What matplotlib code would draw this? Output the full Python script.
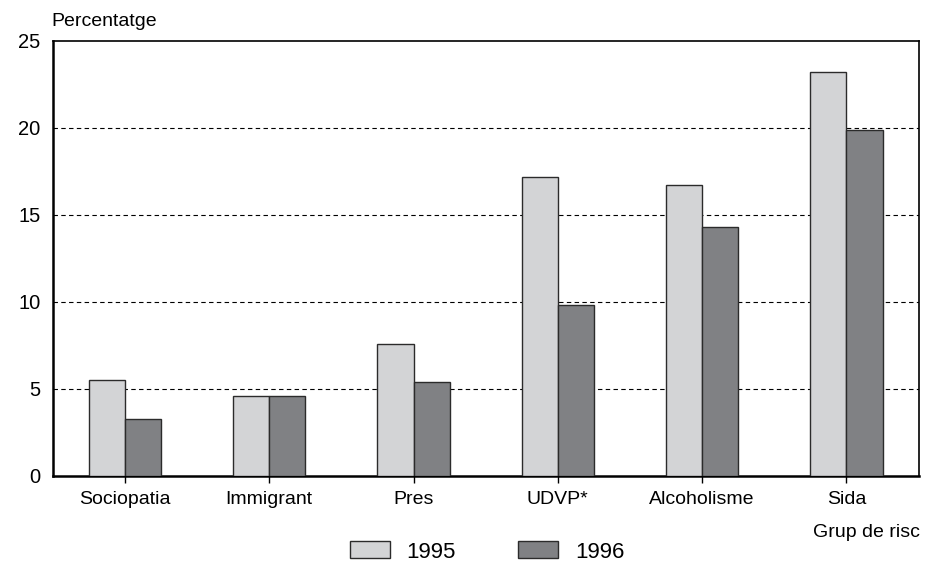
import numpy as np
import matplotlib
matplotlib.use("Agg")
from matplotlib import pyplot as plt
from matplotlib.patches import Patch

plt.rcParams['font.family'] = ['Liberation Sans', 'DejaVu Sans']

categories = ["Sociopatia", "Immigrant", "Pres", "UDVP*", "Alcoholisme", "Sida"]
vals_1995 = [5.5, 4.6, 7.6, 17.2, 16.7, 23.2]
vals_1996 = [3.3, 4.6, 5.4, 9.8, 14.3, 19.9]
years = ["1995", "1996"]
yticks = [0, 5, 10, 15, 20, 25]

col95 = "#d3d4d6"
col96 = "#808184"
edge = "#2b2b2b"

fig = plt.figure(figsize=(9.26, 5.68), dpi=100)
ax = fig.add_axes([0.057, 0.162, 0.935, 0.766])

x = np.arange(len(categories))
w = 0.25
ax.bar(x - w/2, vals_1995, w, color=col95, edgecolor=edge, linewidth=1.0, zorder=3)
ax.bar(x + w/2, vals_1996, w, color=col96, edgecolor=edge, linewidth=1.0, zorder=3)

for y in yticks[1:-1]:
    ax.axhline(y, color="black", linestyle=(0, (4, 3)), linewidth=0.8, zorder=1)

ax.set_xlim(-0.5, 5.5)
ax.set_ylim(0, 25)
ax.set_xticks(x)
ax.set_xticklabels(categories, fontsize=14)
ax.set_yticks(yticks)
ax.set_yticklabels([str(t) for t in yticks], fontsize=14.5)
ax.tick_params(axis="y", length=0, pad=9)
ax.tick_params(axis="x", length=5, width=1, direction="out", pad=6)

for s in ["left", "bottom"]:
    ax.spines[s].set_linewidth(1.8)
for s in ["top", "right"]:
    ax.spines[s].set_linewidth(1.2)

fig.text(0.056, 0.963, "Percentatge", fontsize=14, ha="left", va="center")
fig.text(0.993, 0.063, "Grup de risc", fontsize=14, ha="right", va="center")

handles = [Patch(facecolor=col95, edgecolor=edge, linewidth=1.0),
           Patch(facecolor=col96, edgecolor=edge, linewidth=1.0)]
fig.legend(handles, years, loc="center", bbox_to_anchor=(0.526, 0.028), ncol=2,
           frameon=False, fontsize=16, handlelength=1.8, handleheight=0.8,
           columnspacing=2.8, handletextpad=0.75)

fig.savefig("out.png", dpi=100)
